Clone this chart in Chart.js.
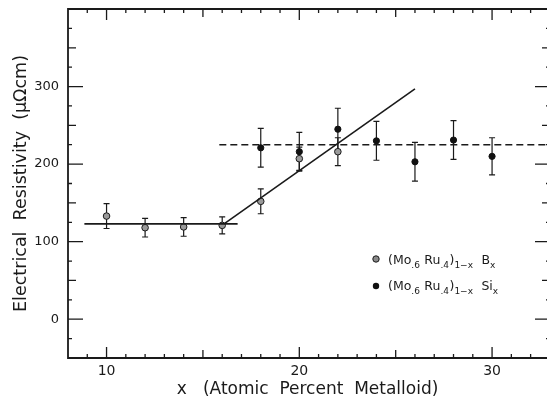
<!DOCTYPE html>
<html>
<head>
<meta charset="utf-8">
<script src="https://cdn.jsdelivr.net/npm/chart.js@4.4.0/dist/chart.umd.min.js"></script>
<style>
  body { margin: 0; background: #fff; overflow: hidden; }
</style>
</head>
<body>
<canvas id="myChart" width="547" height="400"></canvas>
<script>
// (Mo.6 Ru.4)1-x Bx
const xB = [10, 12, 14, 16, 18, 20, 22];
const yB = [133, 118, 119, 121, 152, 207, 216];
const errB = [16, 12, 12, 11, 16, 15, 18];
// (Mo.6 Ru.4)1-x Six
const xSi = [18, 20, 22, 24, 26, 28, 30];
const ySi = [221, 216, 245, 230, 203, 231, 210];
const errSi = [25, 25, 27, 25, 25, 25, 24];
// fitted lines
const flatX = [8.85, 16.8];
const flatY = [123, 123];
const riseX = [16.15, 26.0];
const riseY = [124, 297];
const dashX = [15.85, 33];
const dashY = [225, 225];

const xTickLabels = [10, 20, 30];
const yTickLabels = [0, 100, 200, 300];
const xTitle = 'x   (Atomic  Percent  Metalloid)';
const yTitle = 'Electrical  Resistivity  (\u03bc\u03a9cm)';
// legend text pieces: [text, subscript?]
const legendB = [['(Mo', 0], ['.6', 1], [' Ru', 0], ['.4', 1], [')', 0], ['1\u2212x', 1], ['  B', 0], ['x', 1]];
const legendSi = [['(Mo', 0], ['.6', 1], [' Ru', 0], ['.4', 1], [')', 0], ['1\u2212x', 1], ['  Si', 0], ['x', 1]];

const FONT = '"DejaVu Sans", sans-serif';
const INK = '#1a1a1a';

function pts(xs, ys) {
  return xs.map(function (x, i) { return { x: x, y: ys[i] }; });
}

// error bars, frame, inward ticks and the legend
const decor = {
  id: 'decor',
  beforeDatasetsDraw(chart) {
    const ctx = chart.ctx, sx = chart.scales.x, sy = chart.scales.y;
    ctx.save();
    ctx.strokeStyle = INK;
    ctx.lineWidth = 1.2;
    [[xB, yB, errB], [xSi, ySi, errSi]].forEach(function (s) {
      s[0].forEach(function (x, i) {
        const px = sx.getPixelForValue(x);
        const top = sy.getPixelForValue(s[1][i] + s[2][i]);
        const bot = sy.getPixelForValue(s[1][i] - s[2][i]);
        ctx.beginPath();
        ctx.moveTo(px, top); ctx.lineTo(px, bot);
        ctx.moveTo(px - 3, top); ctx.lineTo(px + 3, top);
        ctx.moveTo(px - 3, bot); ctx.lineTo(px + 3, bot);
        ctx.stroke();
      });
    });
    ctx.restore();
  },
  afterDraw(chart) {
    const ctx = chart.ctx, a = chart.chartArea;
    const sx = chart.scales.x, sy = chart.scales.y;
    ctx.save();
    ctx.strokeStyle = INK;
    ctx.lineWidth = 1.8;
    // frame: the right edge of the original is cut off by the page
    ctx.beginPath();
    ctx.moveTo(a.right + 2, a.top); ctx.lineTo(a.left, a.top);
    ctx.lineTo(a.left, a.bottom); ctx.lineTo(a.right + 2, a.bottom);
    ctx.stroke();
    ctx.lineWidth = 1.3;
    ctx.beginPath();
    for (let v = 9; v < 33; v++) {
      const px = sx.getPixelForValue(v);
      const len = v % 10 === 0 ? 11 : (v % 5 === 0 ? 8 : 4);
      ctx.moveTo(px, a.bottom); ctx.lineTo(px, a.bottom - len);
      ctx.moveTo(px, a.top); ctx.lineTo(px, a.top + len);
    }
    for (let v = -25; v < 400; v += 25) {
      const py = sy.getPixelForValue(v);
      const len = v % 100 === 0 ? 15 : (v % 50 === 0 ? 8 : 4);
      ctx.moveTo(a.left, py); ctx.lineTo(a.left + len, py);
      ctx.moveTo(a.right + 3, py); ctx.lineTo(a.right + 3 - len, py);
    }
    ctx.stroke();

    // legend
    function line(parts, x, y) {
      parts.forEach(function (p) {
        ctx.font = (p[1] ? '9px ' : '12.5px ') + FONT;
        ctx.fillText(p[0], x, p[1] ? y + 4 : y);
        x += ctx.measureText(p[0]).width + (p[1] ? 0.5 : 0);
      });
    }
    ctx.fillStyle = INK;
    ctx.textBaseline = 'alphabetic';
    line(legendB, 388, 264);
    line(legendSi, 388, 290);
    // legend symbols
    ctx.beginPath();
    ctx.arc(376, 259, 3.2, 0, Math.PI * 2);
    ctx.fillStyle = '#8a8a8a';
    ctx.fill();
    ctx.lineWidth = 1; ctx.stroke();
    ctx.beginPath();
    ctx.arc(376, 286, 3.2, 0, Math.PI * 2);
    ctx.fillStyle = '#111';
    ctx.fill();
    ctx.restore();
  }
};

const ctx = document.getElementById('myChart').getContext('2d');
new Chart(ctx, {
  type: 'scatter',
  data: {
    datasets: [
      { data: pts(flatX, flatY), type: 'line', showLine: true, borderColor: INK, borderWidth: 1.6, pointRadius: 0 },
      { data: pts(riseX, riseY), type: 'line', showLine: true, borderColor: INK, borderWidth: 1.6, pointRadius: 0 },
      { data: pts(dashX, dashY), type: 'line', showLine: true, borderColor: INK, borderWidth: 1.6, borderDash: [7, 4], pointRadius: 0 },
      { data: pts(xB, yB), pointStyle: 'circle', pointRadius: 3.3, backgroundColor: '#9a9a9a', borderColor: INK, borderWidth: 1 },
      { data: pts(xB, yB), pointStyle: 'crossRot', pointRadius: 2.6, borderColor: '#333', borderWidth: 0.9 },
      { data: pts(xSi, ySi), pointStyle: 'circle', pointRadius: 3.1, backgroundColor: '#111', borderColor: '#111', borderWidth: 1 }
    ]
  },
  options: {
    responsive: false,
    animation: false,
    events: [],
    layout: { autoPadding: false, padding: { top: 9, right: 0, left: 0, bottom: 0 } },
    plugins: { legend: { display: false }, tooltip: { enabled: false } },
    scales: {
      x: {
        type: 'linear', min: 8, max: 32.85,
        grid: { display: false, drawTicks: false },
        border: { display: false },
        afterBuildTicks: function (s) { s.ticks = xTickLabels.map(function (v) { return { value: v }; }); },
        afterFit: function (s) { s.height = 42; s.paddingLeft = 0; s.paddingRight = 0; },
        ticks: { padding: 5, color: INK, font: { size: 14, family: FONT } },
        title: { display: true, text: xTitle, color: INK, font: { size: 17, family: FONT }, padding: { top: 0, bottom: 0 } }
      },
      y: {
        type: 'linear', min: -50, max: 400,
        grid: { display: false, drawTicks: false },
        border: { display: false },
        afterBuildTicks: function (s) { s.ticks = yTickLabels.map(function (v) { return { value: v }; }); },
        afterFit: function (s) { s.width = 68; s.paddingTop = 0; s.paddingBottom = 0; },
        ticks: { padding: 9, color: INK, font: { size: 13, family: FONT } },
        title: { display: true, text: yTitle, color: INK, font: { size: 17.5, family: FONT }, padding: { top: 11, bottom: 0 } }
      }
    }
  },
  plugins: [decor]
});
</script>
</body>
</html>
